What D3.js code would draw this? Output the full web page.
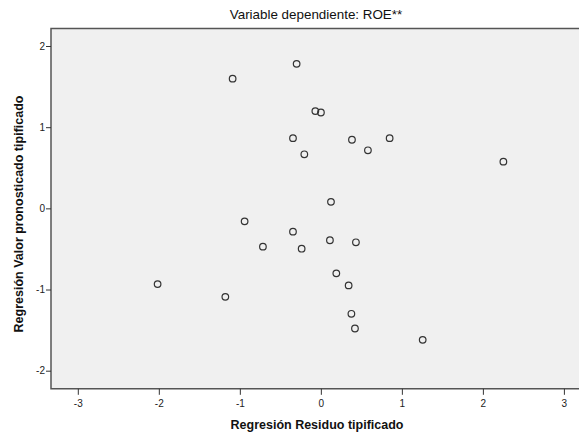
<!DOCTYPE html>
<html><head><meta charset="utf-8">
<script src="https://cdn.jsdelivr.net/npm/d3@7"></script>
<style>body{margin:0;background:#fff;} text{font-family:"Liberation Sans",Arial,sans-serif;}</style>
</head><body>
<svg id="c" width="579" height="437"></svg>
<script>
const titleText = "Variable dependiente: ROE**";
const xLabel = "Regresión Residuo tipificado";
const yLabel = "Regresión Valor pronosticado tipificado";
const xTicks = [-3,-2,-1,0,1,2,3];
const yTicks = [-2,-1,0,1,2];
const residuals = [-1.089,-0.299,-0.068,0.001,-0.344,0.384,0.849,-0.204,0.581,2.253,0.125,-0.941,-0.344,-0.715,-0.237,0.112,0.433,-2.015,-1.179,0.191,0.343,0.377,0.421,1.257];
const predicted = [1.598,1.780,1.198,1.181,0.865,0.845,0.865,0.666,0.715,0.575,0.080,-0.160,-0.287,-0.472,-0.497,-0.393,-0.418,-0.933,-1.090,-0.801,-0.949,-1.299,-1.480,-1.620];

const svg = d3.select("#c");
const L=51, R=579, T=28.5, B=388.8;
const x = d3.scaleLinear().domain([-3,3]).range([77.8,563.9]);
const y = d3.scaleLinear().domain([-2,2]).range([370.7,46]);

svg.append("rect").attr("x",L).attr("y",T).attr("width",R-L).attr("height",B-T).attr("fill","#f0f0f0");
svg.append("path").attr("d",`M${R},${T}H${L}V${B}H${R}`).attr("fill","none").attr("stroke","#555").attr("stroke-width",1.5);

const xa = svg.append("g").attr("transform",`translate(0,${B})`)
  .call(d3.axisBottom(x).tickValues(xTicks).tickSize(6).tickFormat(d=>String(d)));
xa.select(".domain").remove();
xa.selectAll("line").attr("stroke","#333");
xa.selectAll("text").attr("font-size",10).attr("fill","#222").attr("dy","0.9em");

const ya = svg.append("g").attr("transform",`translate(${L},0)`)
  .call(d3.axisLeft(y).tickValues(yTicks).tickSize(5).tickFormat(d=>String(d)));
ya.select(".domain").remove();
ya.selectAll("line").attr("stroke","#333");
ya.selectAll("text").attr("font-size",10).attr("fill","#222").attr("x",-6);

svg.append("g").selectAll("circle").data(residuals.map((r,i)=>[r,predicted[i]])).join("circle")
  .attr("cx",d=>x(d[0])).attr("cy",d=>y(d[1])).attr("r",3.3)
  .attr("fill","none").attr("stroke","#333").attr("stroke-width",1.2);

svg.append("text").attr("x",316).attr("y",19).attr("text-anchor","middle")
  .attr("font-size",13.4).attr("fill","#111").text(titleText);
svg.append("text").attr("x",317).attr("y",429).attr("text-anchor","middle")
  .attr("font-size",12.5).attr("font-weight","bold").attr("fill","#111").text(xLabel);
svg.append("text").attr("transform","translate(23,214) rotate(-90)").attr("text-anchor","middle")
  .attr("font-size",12.5).attr("font-weight","bold").attr("fill","#111").text(yLabel);
</script>
</body></html>
